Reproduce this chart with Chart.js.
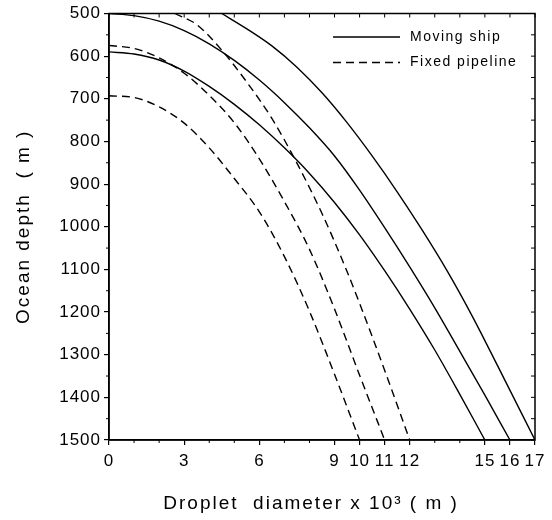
<!DOCTYPE html>
<html><head><meta charset="utf-8">
<script src="https://cdn.jsdelivr.net/npm/chart.js@4.4.1/dist/chart.umd.min.js"></script>
<style>html,body{margin:0;padding:0;background:#fff}</style>
</head><body>
<div style="width:552px;height:520px"><canvas id="c" width="552" height="520"></canvas></div>
<script>
// ---- data ----
const xTickValues = [0, 3, 6, 9, 10, 11, 12, 15, 16, 17];
const depthTickStep = 100;

// Moving ship (solid)
const shipA_x     = [4.5, 5.5, 6.5, 7.5, 8.5, 9.5, 10.5, 11.5, 12.5, 13.5, 14.5, 15.5, 17];
const shipA_depth = [500, 536, 576, 626, 686, 756, 834, 918, 1008, 1104, 1210, 1325, 1500];
const shipB_x     = [0, 1, 2, 3, 4, 5, 6, 7, 8, 9, 10, 11, 12, 13, 14, 15, 16];
const shipB_depth = [500, 505, 518, 540, 571, 610, 656, 709, 768, 834, 914, 1002, 1094, 1190, 1292, 1395, 1500];
const shipC_x     = [0, 1, 2, 3, 4, 5, 6, 7, 8, 9, 10, 11, 12, 13, 14, 15];
const shipC_depth = [590, 595, 609, 635, 671, 713, 761, 815, 875, 943, 1019, 1103, 1193, 1289, 1393, 1500];

// Fixed pipeline (dashed)
const pipeA_x     = [2.63, 3.5, 4.5, 5.5, 6.5, 7.5, 8.5, 9.5, 10.5, 11.25, 12];
const pipeA_depth = [500, 526, 586, 661, 746, 851, 969, 1105, 1257, 1377, 1500];
const pipeB_x     = [0, 1, 2, 3, 4, 5, 6, 7, 8, 9, 10, 11];
const pipeB_depth = [575, 582, 604, 640, 692, 756, 841, 941, 1053, 1193, 1348, 1500];
const pipeC_x     = [0, 1, 2, 3, 4, 5, 6, 7, 8, 9, 10];
const pipeC_depth = [693, 697, 719, 757, 815, 887, 965, 1070, 1198, 1346, 1500];

const seriesLabels = ['Moving ship', 'Fixed pipeline'];
const xTitle = 'Droplet  diameter x 10\u00B3 ( m )   ';
const yTitle = 'Ocean depth  ( m )';

// ---- build ----
const pts = (xs, ys) => xs.map((x, i) => ({x: x, y: ys[i]}));
function ds(label, xs, ys, dashed, legend) {
  return {
    label: label, data: pts(xs, ys), showLine: true, pointRadius: 0,
    borderColor: '#000', borderWidth: 1.4, borderDash: dashed ? [8, 5] : [],
    cubicInterpolationMode: 'monotone', fill: false, inLegend: legend
  };
}
const datasets = [
  ds(seriesLabels[0], shipA_x, shipA_depth, false, true),
  ds(seriesLabels[0], shipB_x, shipB_depth, false, false),
  ds(seriesLabels[0], shipC_x, shipC_depth, false, false),
  ds(seriesLabels[1], pipeA_x, pipeA_depth, true, true),
  ds(seriesLabels[1], pipeB_x, pipeB_depth, true, false),
  ds(seriesLabels[1], pipeC_x, pipeC_depth, true, false)
];

const FONT = "'Liberation Sans', Arial, Helvetica, sans-serif";

const framePlugin = {
  id: 'frame',
  beforeDraw(chart) {
    chart.ctx.letterSpacing = '1px';
    Object.values(chart.scales).forEach(s => {
      if (!s._wrappedTitle) {
        const orig = s.drawTitle;
        s.drawTitle = function () {
          const c = this.ctx; const prev = c.letterSpacing;
          c.letterSpacing = '2px'; orig.apply(this, arguments); c.letterSpacing = prev;
        };
        s._wrappedTitle = true;
      }
    });
  },
  afterDraw(chart) {
    const ctx = chart.ctx, a = chart.chartArea;
    const xs = chart.scales.x, ys = chart.scales.y;
    ctx.save();
    ctx.strokeStyle = '#000';
    ctx.lineWidth = 1.5;
    ctx.strokeRect(a.left, a.top, a.right - a.left, a.bottom - a.top);
    ctx.lineWidth = 1;
    ctx.beginPath();
    for (let v = xs.min; v <= xs.max; v += 1) {
      const p = xs.getPixelForValue(v);
      if (!xTickValues.includes(v)) { ctx.moveTo(p, a.bottom); ctx.lineTo(p, a.bottom + 3); }
      ctx.moveTo(p, a.top); ctx.lineTo(p, a.top + 4);
    }
    for (let v = ys.min; v <= ys.max; v += depthTickStep / 2) {
      const p = ys.getPixelForValue(v);
      if (v % depthTickStep !== 0) { ctx.moveTo(a.left, p); ctx.lineTo(a.left - 3, p); }
      ctx.moveTo(a.right, p); ctx.lineTo(a.right - 4, p);
    }
    ctx.stroke();
    // legend
    const items = chart.data.datasets.filter(d => d.inLegend);
    ctx.font = '14px ' + FONT;
    ctx.letterSpacing = '1.5px';
    ctx.textBaseline = 'middle';
    ctx.textAlign = 'left';
    ctx.fillStyle = '#000';
    items.forEach((d, i) => {
      const y = a.top + 23.5 + i * 25.5;
      const x0 = a.right - 202, x1 = a.right - 135;
      ctx.lineWidth = 1.4;
      ctx.setLineDash(d.borderDash);
      ctx.beginPath(); ctx.moveTo(x0, y); ctx.lineTo(x1, y); ctx.stroke();
      ctx.setLineDash([]);
      ctx.fillText(d.label, a.right - 125, y);
    });
    ctx.restore();
  }
};

new Chart(document.getElementById('c'), {
  type: 'scatter',
  data: {datasets: datasets},
  plugins: [framePlugin],
  options: {
    responsive: false, animation: false,
    layout: {padding: {top: 13.5, right: 17, bottom: 0, left: 0}},
    plugins: {legend: {display: false}, tooltip: {enabled: false}},
    scales: {
      x: {
        type: 'linear', min: 0, max: 17,
        afterBuildTicks: s => { s.ticks = xTickValues.map(v => ({value: v})); },
        afterFit: s => { s.height = 80; },
        grid: {drawOnChartArea: false, drawTicks: true, tickLength: 5, color: '#000', lineWidth: 1.2},
        border: {display: true, color: '#000', width: 1.5},
        ticks: {color: '#000', font: {family: FONT, size: 17}, padding: 6, maxRotation: 0, autoSkip: false,
                callback: v => String(v)},
        title: {display: true, text: xTitle, color: '#000', font: {family: FONT, size: 19}, padding: {top: 0, bottom: 5}}
      },
      y: {
        type: 'linear', min: 500, max: 1500, reverse: true,
        ticks: {stepSize: depthTickStep, color: '#000', font: {family: FONT, size: 17}, padding: 3, autoSkip: false,
                callback: v => String(v)},
        afterFit: s => { s.width = 109; },
        grid: {drawOnChartArea: false, drawTicks: true, tickLength: 5, color: '#000', lineWidth: 1.2},
        border: {display: true, color: '#000', width: 1.5},
        title: {display: true, text: yTitle, color: '#000', font: {family: FONT, size: 19}, padding: {top: 12, bottom: 0}}
      }
    }
  }
});
</script>
</body></html>
